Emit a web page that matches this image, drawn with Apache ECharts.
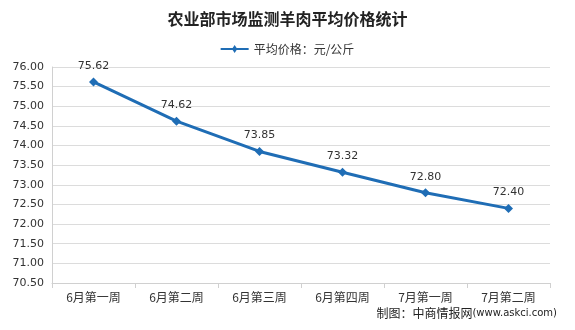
<!DOCTYPE html>
<html><head><meta charset="utf-8">
<script src="https://cdn.jsdelivr.net/npm/echarts@6/dist/echarts.min.js"></script>
<style>html,body{margin:0;padding:0;background:#fff;}#c{width:575px;height:330px;}</style>
</head><body><div id="c"></div>
<script>
const categories = ['6月第一周','6月第二周','6月第三周','6月第四周','7月第一周','7月第二周'];
const prices = [75.62, 74.62, 73.85, 73.32, 72.80, 72.40];
const seriesName = '平均价格：元/公斤';
const yMin = 70.5, yMax = 76, yStep = 0.5;

const chart = echarts.init(document.getElementById('c'));
chart.setOption({
  animation: false,
  backgroundColor: '#fff',
  title: {
    text: '农业部市场监测羊肉平均价格统计',
    left: 'center', top: 6,
    textStyle: { fontFamily: 'Noto Sans CJK SC', fontWeight: 'bold', fontSize: 16, color: '#222' }
  },
  legend: {
    top: 38, left: 'center',
    itemWidth: 28, itemHeight: 10,
    textStyle: { fontFamily: 'Noto Sans CJK SC', fontSize: 12, color: '#333' },
    data: [{ name: seriesName, icon: 'path://M0,4 L12,4 L14,1 L16,4 L28,4 L28,6 L16,6 L14,9 L12,6 L0,6 Z' }]
  },
  graphic: [{
    type: 'text', right: 18, top: 307,
    style: { rich: { a: { fontFamily: 'Noto Sans CJK SC', fontSize: 12, fill: '#222' }, b: { fontFamily: 'DejaVu Sans', fontSize: 10, fill: '#222' } },
      text: '{a|制图：中商情报网}{b|(www.askci.com)}' }
  }],
  grid: { left: 52, right: 25, top: 67, bottom: 47 },
  xAxis: {
    type: 'category', data: categories, boundaryGap: true,
    axisLine: { lineStyle: { color: '#d0d0d0' } },
    axisTick: { show: true, length: 5, lineStyle: { color: '#d0d0d0' } },
    axisLabel: { fontFamily: 'Noto Sans CJK SC', fontSize: 12, color: '#333', margin: 8 }
  },
  yAxis: {
    type: 'value', min: yMin, max: yMax, interval: yStep,
    axisLine: { show: true, lineStyle: { color: '#d0d0d0' } },
    axisTick: { show: false },
    splitLine: { lineStyle: { color: '#dcdcdc' } },
    axisLabel: { fontFamily: 'DejaVu Sans', fontSize: 11, color: '#333', margin: 8, formatter: v => v.toFixed(2) }
  },
  series: [{
    name: seriesName, type: 'line', data: prices,
    symbol: 'diamond', symbolSize: 9,
    lineStyle: { color: '#1f6db5', width: 3 },
    itemStyle: { color: '#1f6db5' },
    label: { show: true, position: 'top', distance: 6, fontFamily: 'DejaVu Sans', fontSize: 11, color: '#333', formatter: p => p.value.toFixed(2) }
  }]
});
</script></body></html>
